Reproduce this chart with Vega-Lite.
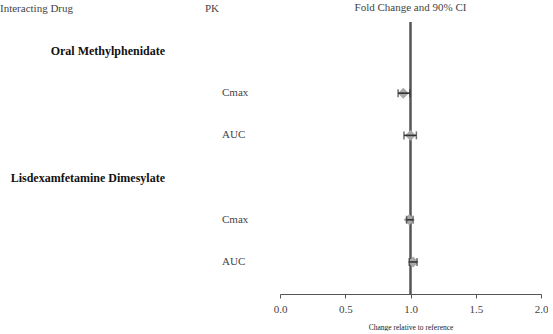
{
  "$schema": "https://vega.github.io/schema/vega-lite/v6.json",
  "padding": {"left": 0, "top": 2, "right": 0, "bottom": 0},
  "background": "white",
  "spacing": 0,
  "config": {
    "view": {"stroke": null},
    "font": "Liberation Serif",
    "title": {"fontSize": 11, "fontWeight": "normal", "color": "#444", "font": "Liberation Serif", "offset": 8}
  },
  "datasets": {
    "rows": [
      {"row": "1", "drug": "Oral Methylphenidate", "pk": null, "est": null, "lo": null, "hi": null},
      {"row": "2", "drug": null, "pk": "Cmax", "est": 0.945, "lo": 0.905, "hi": 0.995},
      {"row": "3", "drug": null, "pk": "AUC", "est": 1.0, "lo": 0.95, "hi": 1.045},
      {"row": "4", "drug": "Lisdexamfetamine Dimesylate", "pk": null, "est": null, "lo": null, "hi": null},
      {"row": "5", "drug": null, "pk": "Cmax", "est": 0.99, "lo": 0.97, "hi": 1.02},
      {"row": "6", "drug": null, "pk": "AUC", "est": 1.02, "lo": 0.99, "hi": 1.05}
    ]
  },
  "hconcat": [
    {
      "width": 205,
      "height": 272,
      "title": {"text": "Interacting Drug", "anchor": "start"},
      "data": {"name": "rows"},
      "transform": [{"filter": "datum.drug != null"}],
      "mark": {"type": "text", "align": "right", "fontWeight": "bold", "fontSize": 12, "dx": -40, "color": "#111"},
      "encoding": {
        "y": {"field": "row", "type": "ordinal", "scale": {"type": "point", "padding": 0.723, "align": 0.475, "domain": ["1", "2", "3", "4", "5", "6"]}, "axis": null},
        "x": {"value": "width"},
        "text": {"field": "drug"}
      }
    },
    {
      "width": 68,
      "height": 272,
      "title": {"text": "PK", "anchor": "start"},
      "data": {"name": "rows"},
      "transform": [{"filter": "datum.pk != null"}],
      "mark": {"type": "text", "align": "left", "fontSize": 11, "dx": 17, "color": "#444"},
      "encoding": {
        "y": {"field": "row", "type": "ordinal", "scale": {"type": "point", "padding": 0.723, "align": 0.475, "domain": ["1", "2", "3", "4", "5", "6"]}, "axis": null},
        "x": {"value": 0},
        "text": {"field": "pk"}
      }
    },
    {
      "width": 261,
      "height": 272,
      "title": {"text": "Fold Change and 90% CI", "anchor": "middle"},
      "data": {"name": "rows"},
      "layer": [
        {
          "mark": {"type": "rule", "color": "#555", "strokeWidth": 1.4},
          "encoding": {
            "x": {
              "datum": 1,
              "type": "quantitative",
              "scale": {"domain": [0, 2], "nice": false, "zero": false},
              "axis": {
                "values": [0, 0.5, 1, 1.5, 2],
                "format": ".1f",
                "title": "Change relative to reference",
                "titleFont": "Liberation Serif",
                "titleFontSize": 7.5,
                "titleFontWeight": "normal",
                "titleColor": "#222",
                "titlePadding": 9,
                "labelFont": "Liberation Serif",
                "labelFontSize": 11,
                "labelColor": "#444",
                "labelPadding": 5,
                "labelFlush": false,
                "tickSize": 4,
                "grid": false,
                "domainColor": "#555",
                "tickColor": "#555"
              }
            }
          }
        },
        {
          "transform": [{"filter": "datum.est != null"}],
          "mark": {"type": "point", "shape": "diamond", "filled": true, "color": "#a8a8a8", "size": 120, "opacity": 1},
          "encoding": {
            "x": {"field": "est", "type": "quantitative"},
            "y": {"field": "row", "type": "ordinal", "scale": {"type": "point", "padding": 0.723, "align": 0.475, "domain": ["1", "2", "3", "4", "5", "6"]}, "axis": null}
          }
        },
        {
          "transform": [{"filter": "datum.est != null"}],
          "mark": {"type": "rule", "color": "#333", "strokeWidth": 1.6},
          "encoding": {
            "x": {"field": "lo", "type": "quantitative"},
            "x2": {"field": "hi"},
            "y": {"field": "row", "type": "ordinal"}
          }
        },
        {
          "transform": [{"filter": "datum.est != null"}],
          "mark": {"type": "tick", "color": "#333", "size": 8, "thickness": 1.5},
          "encoding": {
            "x": {"field": "lo", "type": "quantitative"},
            "y": {"field": "row", "type": "ordinal"}
          }
        },
        {
          "transform": [{"filter": "datum.est != null"}],
          "mark": {"type": "tick", "color": "#333", "size": 8, "thickness": 1.5},
          "encoding": {
            "x": {"field": "hi", "type": "quantitative"},
            "y": {"field": "row", "type": "ordinal"}
          }
        }
      ]
    }
  ]
}
